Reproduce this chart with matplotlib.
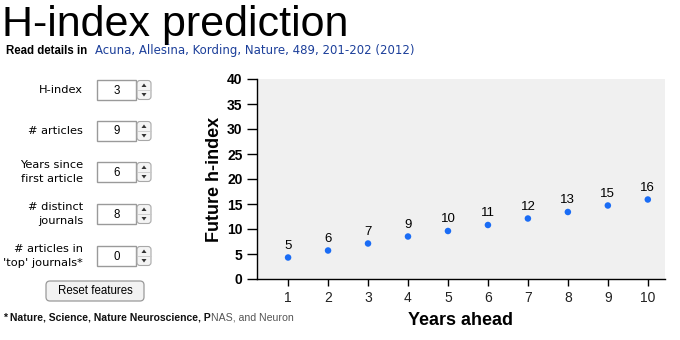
import matplotlib
matplotlib.use("Agg")
import matplotlib.pyplot as plt
from matplotlib.patches import FancyBboxPatch, Rectangle, Polygon

plt.rcParams['font.family'] = ['Liberation Sans', 'DejaVu Sans']

# ---- data ----
years_ahead = [1, 2, 3, 4, 5, 6, 7, 8, 9, 10]
future_h = [4.3, 5.7, 7.1, 8.5, 9.6, 10.8, 12.1, 13.4, 14.7, 15.9]
point_labels = ["5", "6", "7", "9", "10", "11", "12", "13", "15", "16"]
y_ticks = [0, 5, 10, 15, 20, 25, 30, 35, 40]
x_ticks = [1, 2, 3, 4, 5, 6, 7, 8, 9, 10]

field_labels = ["H-index", "# articles", "Years since\nfirst article",
                "# distinct\njournals", "# articles in\n'top' journals*"]
field_values = ["3", "9", "6", "8", "0"]

title = "H-index prediction"
read_prefix = "Read details in"
citation = "Acuna, Allesina, Kording, Nature, 489, 201-202 (2012)"
footnote_a = "* Nature, Science, Nature Neuroscience, P"
footnote_b = "NAS, and Neuron"

W, H = 680, 340
fig = plt.figure(figsize=(6.8, 3.4), dpi=100)
fig.patch.set_facecolor("white")

# ---- UI overlay in pixel coordinates ----
ui = fig.add_axes([0, 0, 1, 1])
ui.set_xlim(0, W)
ui.set_ylim(H, 0)
ui.axis("off")
ui.patch.set_visible(False)

ui.text(2, 36, title, fontsize=31, va="baseline", ha="left", color="black")
ui.text(6, 54, read_prefix, fontsize=8.3, fontweight="bold",
        va="baseline", ha="left", color="black")
ui.text(95, 54, citation, fontsize=8.5, va="baseline", ha="left",
        color="#1c3f9a", family="DejaVu Sans")

row_centers = [90, 131, 172, 214, 256]
for lab, val, yc in zip(field_labels, field_values, row_centers):
    ui.text(83, yc, lab, fontsize=8.2, ha="right", va="center",
            linespacing=1.5, color="black", family="DejaVu Sans")
    # text field
    ui.add_patch(Rectangle((97, yc - 10), 39, 20, facecolor="white",
                           edgecolor="#9a9a9a", linewidth=1.0))
    ui.text(117, yc + 0.5, val, fontsize=8.3, ha="center", va="center")
    # spinner
    ui.add_patch(FancyBboxPatch((137, yc - 9.5), 14, 19,
                                boxstyle="round,pad=0,rounding_size=3",
                                facecolor="#f4f4f4", edgecolor="#a8a8a8",
                                linewidth=0.8))
    ui.plot([137.5, 150.5], [yc, yc], color="#c8c8c8", lw=0.6)
    ui.add_patch(Polygon([[141.5, yc - 3], [146.5, yc - 3], [144, yc - 6.5]],
                         closed=True, facecolor="#333333", edgecolor="none"))
    ui.add_patch(Polygon([[141.5, yc + 3], [146.5, yc + 3], [144, yc + 6.5]],
                         closed=True, facecolor="#333333", edgecolor="none"))

# reset button
ui.add_patch(FancyBboxPatch((46, 281), 98, 20,
                            boxstyle="round,pad=0,rounding_size=4",
                            facecolor="#f2f2f2", edgecolor="#9a9a9a",
                            linewidth=0.9))
ui.text(95, 291.5, "Reset features", fontsize=8.3, ha="center", va="center")

fa = ui.text(3, 318, footnote_a, fontsize=7.5, fontweight="bold",
             ha="left", va="center", color="#111111")
ui.annotate(footnote_b, xy=(1, 0), xycoords=fa, fontsize=7.6,
            ha="left", va="bottom", color="#555555")

# ---- chart ----
ax = fig.add_axes([256.5 / W, 1 - 279 / H, (665 - 256.5) / W, 200 / H])
ax.set_facecolor("#f0f0f0")
ax.scatter(years_ahead, future_h, s=22, color="#1a6cf5", zorder=3,
           edgecolors="none")
for x, y, lab in zip(years_ahead, future_h, point_labels):
    ax.annotate(lab, (x, y), xytext=(0, 4), textcoords="offset points",
                ha="center", va="bottom", fontsize=9.5, color="black")

ax.set_xlim(0.21, 10.43)
ax.set_ylim(0, 40)
ax.set_yticks(y_ticks)
ax.set_xticks(x_ticks)
ax.set_yticklabels([str(v) for v in y_ticks], fontweight="bold", fontsize=10)
ax.set_xticklabels([str(v) for v in x_ticks], fontsize=10, color="#222222")
ax.tick_params(axis="y", length=7, width=1, pad=3)
ax.tick_params(axis="x", length=5, width=1, pad=4)
for s in ["top", "right"]:
    ax.spines[s].set_visible(False)
for s in ["left", "bottom"]:
    ax.spines[s].set_linewidth(1)
ax.set_ylabel("Future h-index", fontsize=13, fontweight="bold", labelpad=3)
ax.set_xlabel("Years ahead", fontsize=13, fontweight="bold", labelpad=5)

fig.savefig("out.png", dpi=100, facecolor="white")
